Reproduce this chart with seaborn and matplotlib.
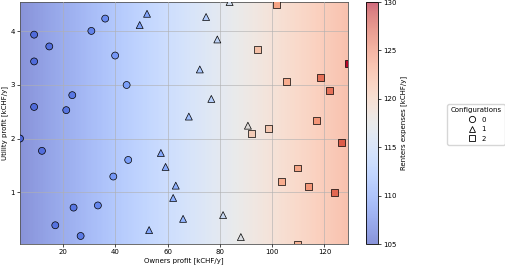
import numpy as np
import pandas as pd
import matplotlib
matplotlib.use("Agg")
import matplotlib.pyplot as plt
from matplotlib.lines import Line2D
import seaborn as sns

# Configuration 0 (circles)
c0_owners = [3.5, 8.9, 8.9, 8.9, 11.9, 14.7, 17.0, 21.2, 23.5, 24.0, 26.7, 30.8, 33.3, 36.1, 39.2, 39.9, 44.3, 44.9]
c0_utility = [2.00, 3.94, 3.44, 2.59, 1.77, 3.72, 0.38, 2.53, 2.81, 0.71, 0.18, 4.01, 0.75, 4.24, 1.29, 3.55, 3.00, 1.60]
c0_renters = [106.5, 106.8, 106.8, 106.8, 107.0, 107.1, 107.2, 107.4, 107.5, 107.5, 107.7, 108.2, 108.4, 108.8, 109.5, 109.5, 110.0, 110.0]

# Configuration 1 (triangles)
c1_owners = [49.3, 52.1, 52.9, 57.4, 59.2, 62.1, 63.1, 65.9, 68.1, 72.3, 74.7, 76.7, 79.0, 81.2, 83.7, 88.0, 90.7]
c1_utility = [4.12, 4.33, 0.29, 1.73, 1.47, 0.89, 1.12, 0.50, 2.41, 3.29, 4.27, 2.74, 3.85, 0.57, 4.55, 0.16, 2.24]
c1_renters = [110.2, 110.4, 110.4, 110.8, 111.0, 111.2, 111.4, 111.8, 112.5, 113.3, 113.8, 114.2, 114.8, 115.6, 116.2, 117.2, 117.7]

# Configuration 2 (squares)
c2_owners = [91.9, 94.3, 98.6, 101.6, 103.4, 105.4, 109.7, 109.7, 113.9, 116.8, 118.5, 122.0, 123.9, 126.5, 129.0]
c2_utility = [2.09, 3.66, 2.19, 4.50, 1.19, 3.07, 1.45, 0.03, 1.10, 2.33, 3.14, 2.90, 0.99, 1.92, 3.41]
c2_renters = [120.0, 121.0, 120.5, 123.0, 122.5, 122.5, 123.0, 122.0, 124.0, 124.0, 126.0, 126.0, 126.5, 127.0, 130.0]

# Renters expenses at left / right of the background gradient
background_renters = [105.0, 123.8]

vmin, vmax = 105, 130

df = pd.DataFrame({
    "owners": c0_owners + c1_owners + c2_owners,
    "utility": c0_utility + c1_utility + c2_utility,
    "renters": c0_renters + c1_renters + c2_renters,
    "config": ["0"] * len(c0_owners) + ["1"] * len(c1_owners) + ["2"] * len(c2_owners),
})

plt.rcParams["font.size"] = 5
fig = plt.figure(figsize=(5.05, 2.67), dpi=100)
ax = fig.add_axes([20 / 505, 1 - 244 / 267, 328 / 505, 242 / 267])
cax = fig.add_axes([366 / 505, 1 - 244 / 267, 12 / 505, 242 / 267])

xmin, xmax = df.owners.min(), df.owners.max()
ymin, ymax = df.utility.min(), df.utility.max()

# background gradient along owners profit
grad = np.linspace(background_renters[0], background_renters[1], 256)[None, :]
im = ax.imshow(grad, extent=[xmin, xmax, ymin, ymax], aspect="auto", origin="lower",
               cmap="coolwarm", vmin=vmin, vmax=vmax, alpha=0.6, zorder=0)

markers = {"0": "o", "1": "^", "2": "s"}
sns.scatterplot(data=df, x="owners", y="utility", hue="renters", style="config",
                palette="coolwarm", hue_norm=(vmin, vmax), markers=markers,
                s=25, edgecolor="black", linewidth=0.5, alpha=1.0, legend=False, ax=ax, zorder=3)

ax.set_xlim(xmin, xmax)
ax.set_ylim(ymin, ymax)
ax.set_xticks([20, 40, 60, 80, 100, 120])
ax.set_yticks([1, 2, 3, 4])
ax.grid(True, color="#b0b0b0", linewidth=0.6, alpha=0.7, zorder=1)
ax.set_axisbelow(False)
ax.tick_params(length=2, width=0.5, pad=1.5, labelsize=5)
for sp in ax.spines.values():
    sp.set_linewidth(0.6)
    sp.set_color("#555555")
ax.set_xlabel("Owners profit [kCHF/y]", fontsize=5, labelpad=2)
ax.set_ylabel("Utility profit [kCHF/y]", fontsize=5, labelpad=2)

cb = fig.colorbar(im, cax=cax)
cb.set_ticks([105, 110, 115, 120, 125, 130])
cb.set_label("Renters expenses [kCHF/y]", fontsize=5, labelpad=3)
cb.ax.tick_params(length=2, width=0.5, pad=1.5, labelsize=5)
cb.outline.set_linewidth(0.6)

handles = [Line2D([], [], linestyle="none", marker=markers[k], markersize=4.5,
                  markerfacecolor="white", markeredgecolor="black", markeredgewidth=0.6,
                  label=k) for k in ["0", "1", "2"]]
fig.legend(handles=handles, title="Configurations", loc="center left",
           bbox_to_anchor=(444 / 505, 1 - 124.5 / 267), fontsize=5, title_fontsize=5,
           frameon=True, handletextpad=0.6, handlelength=1.5, labelspacing=0.5, borderpad=0.45)

fig.savefig("out.png", dpi=100)
